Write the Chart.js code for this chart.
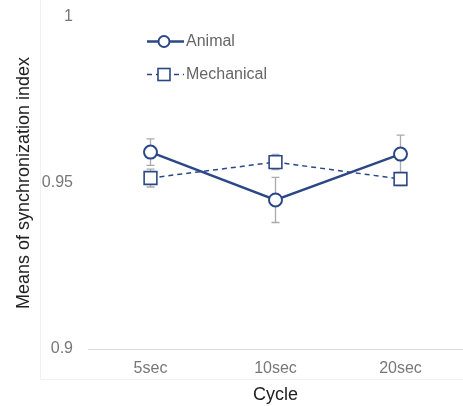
<!DOCTYPE html>
<html>
<head>
<meta charset="utf-8">
<script src="https://cdn.jsdelivr.net/npm/chart.js@4/dist/chart.umd.min.js"></script>
<style>
  html, body { margin: 0; padding: 0; background: #fff; }
  #wrap { width: 463px; height: 406px; }
</style>
</head>
<body>
<div id="wrap"><canvas id="chart"></canvas></div>
<script>
// Datos
const cycles = ['5sec', '10sec', '20sec'];
const animalMeans = [0.9593, 0.9449, 0.9587];
const animalErr = [0.0040, 0.0068, 0.0057];
const mechanicalMeans = [0.9515, 0.9563, 0.9512];
const mechanicalErr = [0.0027, 0.0023, 0.0020];
const yTicks = [0.9, 0.95, 1];

const NAVY = '#2b4886';
const FONT = "'Liberation Sans', Arial, sans-serif";

// marco muy tenue alrededor del gráfico
const framePlugin = {
    id: 'frame',
    beforeDraw(chart) {
        const ctx = chart.ctx;
        ctx.save();
        ctx.strokeStyle = '#f1f1f1';
        ctx.lineWidth = 1;
        ctx.beginPath();
        ctx.moveTo(40.5, 0);
        ctx.lineTo(40.5, 379.5);
        ctx.lineTo(chart.width, 379.5);
        ctx.stroke();
        ctx.restore();
    }
};

// barras de error (debajo de los marcadores)
const errorBarPlugin = {
    id: 'errorBars',
    beforeDatasetsDraw(chart) {
        const ctx = chart.ctx;
        const y = chart.scales.y;
        ctx.save();
        ctx.strokeStyle = '#aaaaaa';
        ctx.lineWidth = 1.3;
        chart.data.datasets.forEach((ds, i) => {
            const meta = chart.getDatasetMeta(i);
            meta.data.forEach((pt, j) => {
                const top = y.getPixelForValue(ds.data[j] + ds.errors[j]);
                const bot = y.getPixelForValue(ds.data[j] - ds.errors[j]);
                ctx.beginPath();
                ctx.moveTo(pt.x, top);
                ctx.lineTo(pt.x, bot);
                ctx.moveTo(pt.x - 4, top);
                ctx.lineTo(pt.x + 4, top);
                ctx.moveTo(pt.x - 4, bot);
                ctx.lineTo(pt.x + 4, bot);
                ctx.stroke();
            });
        });
        ctx.restore();
    }
};

// leyenda dentro del área: línea + marcador
const legendPlugin = {
    id: 'lineLegend',
    afterDraw(chart) {
        const ctx = chart.ctx;
        const rows = [{ y: 41.5 }, { y: 74.5 }];
        ctx.save();
        chart.data.datasets.forEach((ds, i) => {
            const ly = rows[i].y;
            ctx.strokeStyle = NAVY;
            ctx.lineWidth = ds.borderWidth;
            ctx.setLineDash(ds.borderDash || []);
            ctx.beginPath();
            ctx.moveTo(147, ly);
            ctx.lineTo(184, ly);
            ctx.stroke();
            ctx.setLineDash([]);
            ctx.fillStyle = '#fff';
            ctx.lineWidth = 1.6;
            if (ds.pointStyle === 'rect') {
                ctx.fillRect(158, ly - 6, 12, 12);
                ctx.strokeRect(158, ly - 6, 12, 12);
            } else {
                ctx.beginPath();
                ctx.arc(164, ly, 5.5, 0, Math.PI * 2);
                ctx.fill();
                ctx.lineWidth = 2;
                ctx.stroke();
            }
            ctx.fillStyle = '#666';
            ctx.font = '16px ' + FONT;
            ctx.textBaseline = 'middle';
            ctx.fillText(ds.label, 186, ly);
        });
        ctx.restore();
    }
};

new Chart(document.getElementById('chart'), {
    type: 'line',
    data: {
        labels: cycles,
        datasets: [
            {
                label: 'Animal',
                data: animalMeans,
                errors: animalErr,
                borderColor: NAVY,
                borderWidth: 2.5,
                pointStyle: 'circle',
                pointRadius: 6.5,
                pointBorderWidth: 2,
                pointBackgroundColor: '#fff',
                pointBorderColor: NAVY,
                tension: 0
            },
            {
                label: 'Mechanical',
                data: mechanicalMeans,
                errors: mechanicalErr,
                borderColor: NAVY,
                borderWidth: 1.5,
                borderDash: [5, 4],
                pointStyle: 'rect',
                pointRadius: 9,
                pointBorderWidth: 1.6,
                pointBackgroundColor: '#fff',
                pointBorderColor: NAVY,
                tension: 0
            }
        ]
    },
    options: {
        responsive: true,
        maintainAspectRatio: false,
        animation: false,
        layout: { autoPadding: false, padding: { top: 17, right: 0, left: 0, bottom: 0 } },
        plugins: {
            legend: { display: false },
            tooltip: { enabled: false }
        },
        scales: {
            x: {
                offset: true,
                grid: { display: false, drawTicks: false },
                border: { display: true, color: '#dcdcdc', width: 1 },
                ticks: { color: '#777', font: { family: FONT, size: 16 }, padding: 10 },
                title: { display: true, text: 'Cycle', color: '#222', font: { family: FONT, size: 18 }, padding: { top: 0, bottom: 0 } },
                afterFit: (scale) => { scale.height = 57; scale.paddingLeft = 0; scale.paddingRight = 0; }
            },
            y: {
                min: 0.9,
                max: 1,
                grid: { display: false, drawTicks: false },
                border: { display: false },
                afterBuildTicks: (scale) => { scale.ticks = yTicks.map(v => ({ value: v })); },
                ticks: { color: '#777', font: { family: FONT, size: 16 }, padding: 15, callback: (v) => String(v) },
                title: { display: true, text: 'Means of synchronization index', color: '#222', font: { family: FONT, size: 18 }, padding: { top: 13, bottom: 0 } },
                afterFit: (scale) => { scale.width = 88; scale.paddingTop = 0; scale.paddingBottom = 0; }
            }
        }
    },
    plugins: [framePlugin, errorBarPlugin, legendPlugin]
});
</script>
</body>
</html>
